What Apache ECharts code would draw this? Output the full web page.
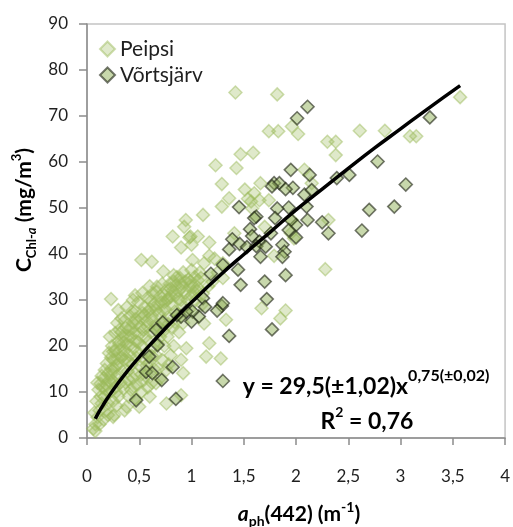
<!DOCTYPE html>
<html>
<head>
<meta charset="utf-8">
<script src="https://cdn.jsdelivr.net/npm/echarts@6/dist/echarts.min.js"></script>
<style>
html,body{margin:0;padding:0;background:#fff;}
#chart{width:513px;height:527px;}
</style>
</head>
<body>
<div id="chart"></div>
<script>
var seriesNames = ['Peipsi', 'Võrtsjärv'];
var xTicks = [0, 0.5, 1, 1.5, 2, 2.5, 3, 3.5, 4];
var yTicks = [0, 10, 20, 30, 40, 50, 60, 70, 80, 90];

var peipsi = [
[1.42,75.1],[1.82,74.7],[3.57,74.1],[2.61,66.8],[2.85,66.8],[3.09,65.6],[3.15,65.6],[2.30,64.4],[2.38,64.4],[2.38,61.5],
[2.02,66.1],[1.96,67.7],[1.74,66.7],[1.83,66.7],[1.59,62.0],[1.47,61.7],[1.23,59.3],[1.43,58.7],[1.29,55.2],[1.51,54.0],
[1.60,53.2],[1.54,52.0],[1.66,55.4],[1.74,51.7],[1.36,52.1],[1.57,51.4],[1.65,51.7],[1.58,49.9],[1.11,48.5],[1.29,50.3],
[0.945,47.4],[0.93,45.9],[0.99,43.8],[0.82,43.8],[0.90,41.4],[0.98,43.6],[1.17,42.5],[1.06,43.8],[1.41,44.5],[1.70,45.9],
[1.95,44.5],[1.79,39.6],[1.98,43.4],[1.96,47.4],[2.31,47.4],[2.08,58.3],[2.15,55.4],[2.28,36.7],[1.67,28.2],[1.85,26.0],
[1.90,27.7],[1.33,25.7],[1.17,20.6],[1.14,17.7],[1.28,17.3],[1.12,24.9],[1.01,38.7],[1.17,39.6],[1.30,34.8],[0.52,38.7],
[0.62,38.3],[0.73,36.2],[0.83,35.4],[0.67,32.9],[0.46,31.0],[0.23,30.2],
[0.06,2.0],[0.08,3.0],[0.10,4.5],[0.07,5.5],[0.12,6.0],[0.09,8.0],[0.13,9.0],[0.11,10.5],[0.14,7.5],[0.08,1.5],
[0.12,3.0],[0.15,11.0],[0.10,12.0],[0.14,13.5],
[0.16,4.0],[0.18,6.0],[0.20,7.5],[0.17,9.0],[0.22,10.0],[0.19,11.5],[0.24,12.5],[0.20,14.0],[0.23,15.0],[0.19,16.2],
[0.25,17.0],[0.21,18.5],[0.24,20.0],[0.22,22.0],[0.20,5.0],[0.25,8.0],[0.16,13.0],[0.25,4.6],
[0.26,5.0],[0.28,7.0],[0.30,9.0],[0.27,11.0],[0.32,12.0],[0.29,13.5],[0.34,14.5],[0.30,16.0],[0.33,17.5],[0.27,19.0],
[0.31,20.5],[0.30,21.0],[0.34,22.0],[0.31,23.5],[0.29,25.0],[0.33,26.0],[0.30,27.8],[0.35,18.0],[0.26,15.0],[0.28,10.0],
[0.36,6.0],[0.38,6.8],[0.40,9.0],[0.42,10.5],[0.37,12.0],[0.44,13.0],[0.39,14.5],[0.43,16.0],[0.36,17.0],[0.41,18.0],
[0.45,19.5],[0.38,20.5],[0.42,22.0],[0.40,23.5],[0.44,25.0],[0.37,24.0],[0.41,26.5],[0.38,28.4],[0.44,30.0],[0.43,27.5],[0.36,19.0],
[0.50,6.8],[0.47,8.5],[0.52,10.0],[0.48,11.5],[0.54,12.5],[0.46,14.0],[0.51,15.5],[0.55,17.0],[0.49,18.5],[0.53,20.0],
[0.47,21.0],[0.50,22.5],[0.54,23.5],[0.48,25.0],[0.52,26.0],[0.46,27.5],[0.55,28.5],[0.49,29.5],[0.53,31.5],
[0.60,9.0],[0.58,11.0],[0.62,12.0],[0.56,13.5],[0.64,15.0],[0.60,16.5],[0.57,18.5],[0.63,19.5],[0.59,21.0],[0.61,23.0],
[0.65,24.0],[0.57,25.5],[0.62,26.5],[0.60,28.0],[0.64,29.0],[0.58,30.5],[0.63,31.5],[0.60,33.0],[0.66,11.9],
[0.70,13.0],[0.68,15.0],[0.72,17.0],[0.66,18.0],[0.74,20.0],[0.70,22.0],[0.67,24.5],[0.73,25.5],[0.69,27.0],[0.75,28.0],
[0.71,29.5],[0.66,31.8],[0.74,31.0],[0.72,33.5],[0.76,14.8],[0.76,7.5],
[0.78,16.0],[0.80,18.0],[0.83,20.0],[0.77,22.0],[0.82,24.0],[0.79,26.0],[0.84,27.5],[0.81,29.0],[0.78,30.5],[0.85,31.0],
[0.80,32.5],[0.83,34.0],[0.79,33.5],
[0.90,17.0],[0.92,14.1],[0.90,9.3],[0.95,19.5],[0.88,23.0],[0.92,25.0],[0.87,27.0],[0.93,28.5],[0.90,30.0],[0.94,31.5],
[0.90,33.6],[0.88,32.0],[0.86,35.0],[0.92,36.0],
[0.98,32.9],[1.00,31.0],[1.02,33.0],[0.97,34.5],[1.03,35.0],[1.00,36.5],[0.98,28.0],[1.04,30.0],[1.00,42.0],
[1.06,34.3],[1.11,31.4],[1.08,36.0],[1.12,38.0],[1.10,29.0],[1.07,32.5],[1.20,34.0],[1.25,36.0],[1.22,39.0],[1.16,33.0],[1.30,38.0],
[0.18,10.5],[0.21,12.5],[0.23,13.8],[0.26,12.2],[0.28,15.8],[0.25,18.8],[0.32,19.2],[0.29,17.2],[0.35,20.8],[0.33,23.0],
[0.39,22.2],[0.36,25.5],[0.41,20.2],[0.43,23.8],[0.45,22.8],[0.40,16.8],[0.47,17.5],[0.49,20.8],[0.51,24.2],[0.46,25.8],
[0.53,27.2],[0.56,22.0],[0.58,24.2],[0.55,26.8],[0.59,27.5],[0.61,29.8],[0.63,25.2],[0.66,27.8],[0.68,29.2],[0.70,30.8],
[0.72,27.8],[0.74,29.5],[0.76,32.2],[0.77,30.0],[0.80,30.8],[0.82,32.0],[0.85,33.2],[0.87,30.2],[0.89,34.8],[0.91,32.8],
[0.94,34.0],[0.96,30.0],[0.99,34.0],[1.02,31.8],[1.05,32.0],[1.09,34.8],[0.27,22.8],[0.23,17.5],[0.17,14.8],[0.13,11.8],
[0.35,10.8],[0.39,12.8],[0.45,11.2],[0.52,13.8],[0.57,15.8],[0.62,17.8],[0.68,20.5],[0.73,23.2],[0.78,24.8],[0.84,25.2]
];

var vortsjarv = [
[2.11,72.0],[2.01,69.5],[3.28,69.7],[2.78,60.1],[1.95,58.3],[2.13,57.2],[2.39,56.5],[2.51,57.2],[3.05,55.1],[1.97,54.4],
[2.08,52.9],[2.15,53.9],[2.70,49.6],[2.94,50.3],[2.11,47.4],[2.10,50.3],[2.25,46.9],[2.31,44.5],[2.63,45.1],[2.00,46.3],
[1.93,50.1],[1.79,55.4],[1.84,55.4],[1.77,54.7],[1.90,54.1],[1.455,50.2],[1.82,49.9],[1.80,47.8],[1.95,47.4],[1.62,48.1],
[1.56,45.4],[1.60,47.8],[1.58,43.9],[1.76,44.5],[1.93,45.2],[2.00,43.6],[1.39,43.2],[1.46,42.2],[1.53,41.5],[1.65,42.7],
[1.36,41.0],[1.62,41.7],[1.71,41.6],[1.87,42.0],[1.89,40.5],[1.87,39.4],[1.66,39.4],[1.30,37.6],[1.185,35.7],[1.47,33.3],
[1.70,34.0],[1.90,35.4],[1.445,36.6],[1.72,30.2],[1.77,23.6],[1.36,22.2],[1.29,28.7],[1.245,27.7],[1.30,29.3],[1.30,12.4],
[1.11,30.4],[1.13,28.5],[1.07,26.4],[1.01,27.5],[1.00,25.3],[0.90,26.4],[0.86,26.7],[0.95,27.5],[0.725,25.1],[0.66,23.5],
[0.675,20.2],[0.595,17.7],[0.565,14.4],[0.625,14.1],[0.715,12.6],[0.82,15.4],[0.85,8.5],[0.47,8.2]
];

var fitCurve = [
[0.08,4.2],[0.1,5.1],[0.15,7.0],[0.2,8.8],[0.3,12.0],[0.4,14.9],[0.5,17.6],[0.6,20.2],[0.7,22.6],[0.8,25.0],[1.0,29.5],
[1.25,34.9],[1.5,39.9],[1.75,44.7],[2.0,49.6],[2.25,54.1],[2.5,58.6],[2.75,63.0],[3.0,67.2],[3.25,71.4],[3.57,76.6]
];

var FONT = 'Lato';
var TXT = '#1f1f1f';

var chart = echarts.init(document.getElementById('chart'), null, {renderer: 'canvas'});
chart.setOption({
  animation: false,
  backgroundColor: '#fff',
  grid: {left: 87, top: 24, right: 6, bottom: 89, show: true, borderColor: '#c4c4c4', borderWidth: 1.5},
  legend: {
    orient: 'vertical', left: 94, top: 33, itemGap: 4, itemWidth: 15, itemHeight: 15,
    textStyle: {fontFamily: FONT, fontSize: 21, color: TXT, lineHeight: 22},
    data: [{name: seriesNames[0], icon: 'diamond'}, {name: seriesNames[1], icon: 'diamond'}]
  },
  xAxis: {
    type: 'value', min: 0, max: 4, interval: 0.5,
    axisLine: {show: true, onZero: false, lineStyle: {color: '#8c8c8c', width: 1.5}},
    axisTick: {show: true, inside: false, length: 7, lineStyle: {color: '#8c8c8c', width: 1.5}},
    splitLine: {show: false},
    axisLabel: {margin: 30, fontFamily: FONT, fontSize: 17, color: TXT,
      formatter: function (v) { return String(v).replace('.', ','); }}
  },
  yAxis: {
    type: 'value', min: 0, max: 90, interval: 10,
    axisLine: {show: true, onZero: false, lineStyle: {color: '#8c8c8c', width: 1.5}},
    axisTick: {show: true, inside: false, length: 8, lineStyle: {color: '#8c8c8c', width: 1.5}},
    splitLine: {show: false},
    axisLabel: {margin: 19, fontFamily: FONT, fontSize: 17, color: TXT}
  },
  series: [
    {
      name: seriesNames[0], type: 'scatter', symbol: 'diamond', symbolSize: 13, data: peipsi, z: 2,
      itemStyle: {color: 'rgba(155,187,89,0.4)', borderColor: 'rgba(155,187,89,0.6)', borderWidth: 1.5}
    },
    {
      name: seriesNames[1], type: 'scatter', symbol: 'diamond', symbolSize: 13, data: vortsjarv, z: 3,
      itemStyle: {color: 'rgba(150,180,95,0.65)', borderColor: 'rgba(25,30,15,0.75)', borderWidth: 1.6}
    },
    {
      name: 'fit', type: 'line', data: fitCurve, showSymbol: false, symbol: 'none', smooth: true, z: 5,
      lineStyle: {color: '#000', width: 3.5}, silent: true
    }
  ],
  graphic: [
    {
      type: 'text', x: 366, y: 383, z: 10,
      style: {
        text: '{m|y = 29,5(±1,02)x}{s|0,75(±0,02)}',
        align: 'center', verticalAlign: 'middle',
        rich: {
          m: {fontFamily: FONT, fontSize: 23, fontWeight: 'bold', fill: '#000', color: '#000', lineHeight: 30, verticalAlign: 'bottom'},
          s: {fontFamily: FONT, fontSize: 16, fontWeight: 'bold', fill: '#000', color: '#000', lineHeight: 30, verticalAlign: 'top'}
        }
      }
    },
    {
      type: 'text', x: 367, y: 419, z: 10,
      style: {
        text: '{m|R}{s|2}{m| = 0,76}',
        align: 'center', verticalAlign: 'middle',
        rich: {
          m: {fontFamily: FONT, fontSize: 23, fontWeight: 'bold', fill: '#000', color: '#000', lineHeight: 28, verticalAlign: 'bottom'},
          s: {fontFamily: FONT, fontSize: 14, fontWeight: 'bold', fill: '#000', color: '#000', lineHeight: 28, verticalAlign: 'top'}
        }
      }
    },
    {
      type: 'text', x: 299, y: 514, z: 10,
      style: {
        text: '{i|a}{sub|ph}{m|(442) (m}{sup|-1}{m|)}',
        align: 'center', verticalAlign: 'middle',
        rich: {
          i: {fontFamily: FONT, fontSize: 21, fontWeight: 'bold', fontStyle: 'italic', fill: '#000', color: '#000', lineHeight: 28, verticalAlign: 'middle'},
          m: {fontFamily: FONT, fontSize: 21, fontWeight: 'bold', fill: '#000', color: '#000', lineHeight: 28, verticalAlign: 'middle'},
          sub: {fontFamily: FONT, fontSize: 14, fontWeight: 'bold', fill: '#000', color: '#000', lineHeight: 28, verticalAlign: 'bottom'},
          sup: {fontFamily: FONT, fontSize: 14, fontWeight: 'bold', fill: '#000', color: '#000', lineHeight: 28, verticalAlign: 'top'}
        }
      }
    },
    {
      type: 'text', x: 24, y: 210, rotation: Math.PI / 2, z: 10,
      style: {
        text: '{m|C}{sub|Chl-}{subi|a}{m| (mg/m}{sup|3}{m|)}',
        align: 'center', verticalAlign: 'middle',
        rich: {
          m: {fontFamily: FONT, fontSize: 21, fontWeight: 'bold', fill: '#000', color: '#000', lineHeight: 28, verticalAlign: 'middle'},
          sub: {fontFamily: FONT, fontSize: 13, fontWeight: 'bold', fill: '#000', color: '#000', lineHeight: 28, verticalAlign: 'bottom'},
          subi: {fontFamily: FONT, fontSize: 13, fontWeight: 'bold', fontStyle: 'italic', fill: '#000', color: '#000', lineHeight: 28, verticalAlign: 'bottom'},
          sup: {fontFamily: FONT, fontSize: 13, fontWeight: 'bold', fill: '#000', color: '#000', lineHeight: 28, verticalAlign: 'top'}
        }
      }
    }
  ]
});
</script>
</body>
</html>
